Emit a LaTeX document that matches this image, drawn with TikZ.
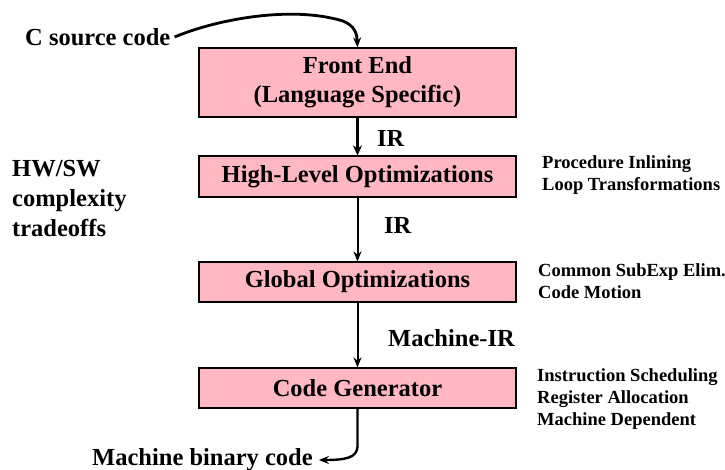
\documentclass[tikz,border=0pt]{standalone}
\usepackage{fontspec}
\setmainfont{Liberation Serif}
\usetikzlibrary{arrows.meta}
\definecolor{boxpink}{RGB}{255,183,193}
\tikzset{
  stagebox/.style={draw=black, line width=1.2pt, fill=boxpink, minimum width=317pt, inner sep=0pt,
    font=\fontsize{24.5}{29}\selectfont\bfseries, align=center},
  bigtxt/.style={font=\fontsize{24.5}{30}\selectfont\bfseries, inner sep=0pt},
  smalltxt/.style={font=\fontsize{18.5}{22}\selectfont\bfseries, inner sep=0pt, align=left},
  flow/.style={line width=2pt, -{Stealth[length=10pt,width=8pt]}},
  thickflow/.style={line width=3.8pt, -{Stealth[length=10pt,width=9pt]}},
  curveflow/.style={line width=2.8pt, -{Stealth[length=10pt,width=8pt]}},
}
\begin{document}
\begin{tikzpicture}[x=1pt,y=-1pt]
\useasboundingbox (0,0) rectangle (725,470);
\node[stagebox, minimum height=69pt] (fe) at (357.5,82.5) {Front End\\(Language Specific)};
\node[stagebox, minimum height=41pt] (hl) at (357.5,176.5) {High-Level Optimizations};
\node[stagebox, minimum height=40pt] (go) at (357.5,282) {Global Optimizations};
\node[stagebox, minimum height=40pt] (cg) at (357.5,388) {Code Generator};

\node[bigtxt, anchor=west, inner xsep=4pt] (csrc) at (21,37) {C source code};
\node[bigtxt, anchor=west, inner xsep=6pt] (mbc) at (86,460) {Machine binary code};
\node[bigtxt, anchor=north west, align=left] (hw) at (12,160) {HW/SW\\complexity\\tradeoffs};

\node[bigtxt, anchor=west] (ir1) at (377,138) {IR};
\node[bigtxt, anchor=west] (ir2) at (384,225) {IR};
\node[bigtxt, anchor=west] (mir) at (388,338) {Machine-IR};

\node[smalltxt, anchor=north west] (n1) at (542,155) {Procedure Inlining\\Loop Transformations};
\node[smalltxt, anchor=north west] (n2) at (538,263) {Common SubExp Elim.\\Code Motion};
\node[smalltxt, anchor=north west] (n3) at (537,368) {Instruction Scheduling\\Register Allocation\\Machine Dependent};

\draw[curveflow] (csrc.east) .. controls (215,20) and (290,5) .. (343,21) .. controls (355,26) and (357,34) .. (fe.north);
\draw[thickflow] (fe.south) -- (hl.north);
\draw[flow] (hl.south) -- (go.north);
\draw[flow] (go.south) -- (cg.north);
\draw[curveflow, line width=2.4pt] (cg.south) -- ++(0,38) .. controls (357,458) and (345,460) .. (mbc.east);
\end{tikzpicture}
\end{document}
